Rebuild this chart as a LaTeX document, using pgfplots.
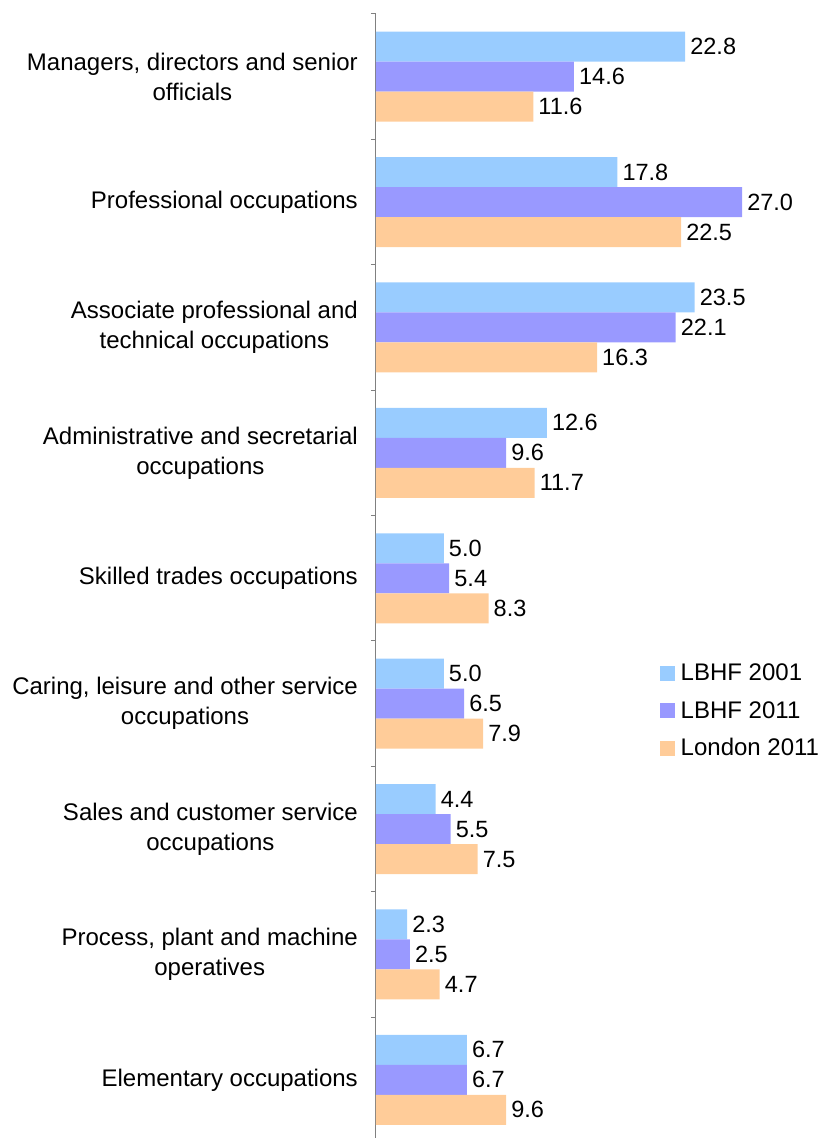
\documentclass[border=0pt]{standalone}
\usepackage{pgfplots}
\pgfplotsset{compat=1.18}
\usepackage{fontspec}
\setmainfont{Liberation Sans}
\definecolor{cA}{HTML}{99CCFF}
\definecolor{cB}{HTML}{9999FF}
\definecolor{cC}{HTML}{FFCC99}
\definecolor{axgray}{HTML}{808080}
\newcommand{\lf}{\fontsize{24}{30}\selectfont}
\newcommand{\nf}{\fontsize{23.5}{30}\selectfont}
\begin{document}
\begin{tikzpicture}
\begin{axis}[
  scale only axis, width=406.8pt, height=1123.6pt,
  xbar, bar width=30pt,
  xmin=0, xmax=30, ymin=-0.46, ymax=8.5,
  axis x line=none, axis y line=left,
  axis line style={-, draw=axgray, line width=1pt},
  ytick={0,...,8},
  yticklabels={{Elementary occupations},{Process, plant and machine\\operatives},{Sales and customer service\\occupations},{Caring, leisure and other service\\occupations},{Skilled trades occupations},{Administrative and secretarial\\occupations},{Associate professional and\\technical occupations},{Professional occupations},{Managers, directors and senior\\officials}},
  major tick length=0pt,
  minor ytick={0.5,1.5,...,8.5},
  minor tick length=5pt, tick align=outside,
  tick style={draw=axgray, line width=1pt},
  yticklabel style={font=\lf, align=center, inner sep=0pt, xshift=-18pt, text=black},
  nodes near coords,
  nodes near coords style={font=\nf, anchor=west, inner sep=0pt, xshift=5pt, text=black},
  /pgf/number format/fixed, /pgf/number format/fixed zerofill,
  /pgf/number format/precision=1, /pgf/number format/assume math mode=true,
  legend style={at={(rel axis cs:0.697,0.4225)}, anchor=north west, draw=none, fill=none,
    font=\lf, row sep=17pt, inner sep=0pt, nodes={inner sep=1pt},
    /tikz/every odd column/.append style={column sep=5pt}},
  legend cell align=left,
  legend image code/.code={\fill[#1] (0pt,-7.5pt) rectangle (15pt,7.5pt);},
]
\addplot[fill=cA, draw=none, bar shift=30pt] coordinates {
 (6.7,0) (2.3,1) (4.4,2) (5.0,3) (5.0,4) (12.6,5) (23.5,6) (17.8,7) (22.8,8)};
\addplot[fill=cB, draw=none, bar shift=0pt] coordinates {
 (6.7,0) (2.5,1) (5.5,2) (6.5,3) (5.4,4) (9.6,5) (22.1,6) (27.0,7) (14.6,8)};
\addplot[fill=cC, draw=none, bar shift=-30pt] coordinates {
 (9.6,0) (4.7,1) (7.5,2) (7.9,3) (8.3,4) (11.7,5) (16.3,6) (22.5,7) (11.6,8)};
\legend{LBHF 2001, LBHF 2011, London 2011}
\coordinate (tl) at (rel axis cs:0,1);
\end{axis}
\pgfresetboundingbox
\path[use as bounding box] ([xshift=-376pt,yshift=14pt]tl) rectangle ([xshift=443pt,yshift=-1124pt]tl);
\end{tikzpicture}
\end{document}
